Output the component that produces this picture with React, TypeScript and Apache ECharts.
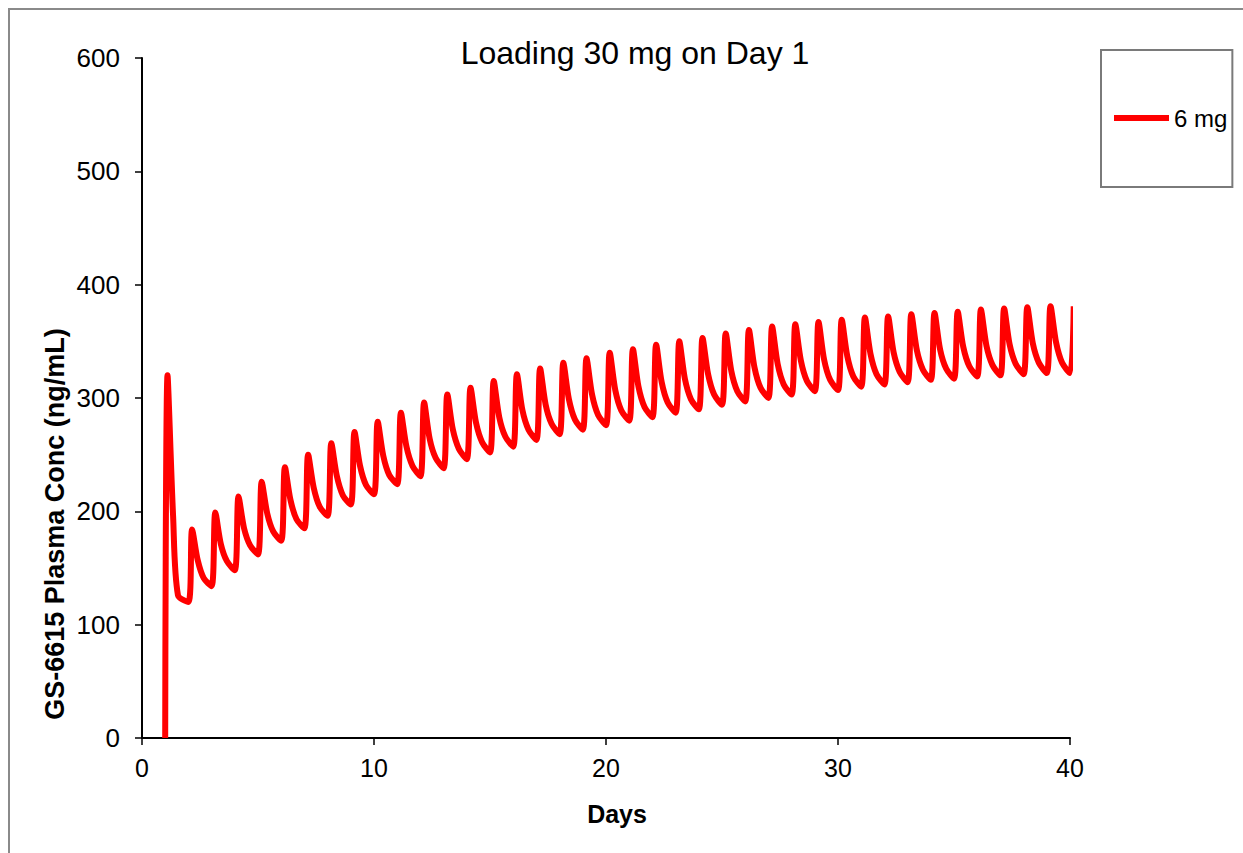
import React, { useEffect, useRef } from "react";
import * as echarts from "echarts";

// Dose days (daily dosing, loading dose on day 1)
const doseDays = [
  1, 2, 3, 4, 5, 6, 7, 8, 9, 10, 11, 12, 13, 14, 15, 16, 17, 18, 19, 20,
  21, 22, 23, 24, 25, 26, 27, 28, 29, 30, 31, 32, 33, 34, 35, 36, 37, 38, 39, 40,
];
// Concentration just before each dose (trough), ng/mL
const troughConc = [
  0, 120, 134, 148, 162, 174, 185, 196, 206, 215, 224, 231, 238, 246, 252, 257, 263, 268, 272, 276,
  280, 283, 287, 290, 294, 297, 300, 303, 306, 307, 310, 312, 314, 316, 317, 319, 320, 321, 322, 322,
];
// Peak concentration after each dose
const peakConc = [
  320, 184, 199, 213, 226, 239, 250, 260, 270, 279, 287, 296, 303, 309, 315, 321, 326, 331, 335, 340,
  343, 347, 350, 353, 357, 360, 363, 365, 367, 369, 371, 372, 374, 375, 376, 378, 379, 380, 381, 381,
];
// Concentration early in the decline after each peak
const earlyDecayConc = [
  196, 157, 171, 185, 198, 210, 221, 231, 240, 249, 257, 264, 272, 278, 283, 289, 294, 299, 303, 307,
  310, 314, 317, 321, 324, 327, 330, 333, 334, 337, 339, 340, 342, 343, 345, 346, 347, 348, 349,
];
// Concentration later in the decline
const lateDecayConc = [
  126, 141, 156, 170, 182, 193, 204, 214, 223, 232, 240, 247, 255, 261, 266, 272, 277, 281, 285, 289,
  292, 296, 299, 303, 306, 309, 312, 315, 316, 319, 321, 323, 325, 326, 328, 329, 330, 331, 331,
];
// Sampling times after each dose (days)
const sampleOffsets = { peak: 0.16, early: 0.4, late: 0.66 };

const xTicks = { min: 0, max: 40, interval: 10 };
const yTicks = { min: 0, max: 600, interval: 100 };

const seriesName = "6 mg";
const titleText = "Loading 30 mg on Day 1";
const xName = "Days";
const yName = "GS-6615 Plasma Conc (ng/mL)";

function buildSeries(): number[][] {
  const pts: number[][] = [];
  doseDays.forEach((d, i) => {
    pts.push([d, troughConc[i]]);
    const pk = i === 0 ? 0.1 : sampleOffsets.peak;
    if (peakConc[i] !== undefined) pts.push([d + pk, peakConc[i]]);
    if (earlyDecayConc[i] !== undefined) pts.push([d + (i === 0 ? 0.34 : sampleOffsets.early), earlyDecayConc[i]]);
    if (lateDecayConc[i] !== undefined) pts.push([d + (i === 0 ? 0.55 : sampleOffsets.late), lateDecayConc[i]]);
  });
  return pts;
}

const FONT = "'Liberation Sans', Arial, sans-serif";

export default function App() {
  const ref = useRef<HTMLDivElement>(null);
  useEffect(() => {
    document.body.style.margin = "0";
    if (!ref.current) return;
    const chart = echarts.init(ref.current, undefined, { renderer: "svg" });
    chart.setOption({
      animation: false,
      backgroundColor: "#ffffff",
      title: {
        text: titleText,
        left: 630,
        top: 32,
        textAlign: "center",
        textStyle: { fontFamily: FONT, fontSize: 32, fontWeight: "normal", color: "#000" },
      },
      legend: {
        data: [{ name: seriesName, icon: "rect" }],
        orient: "vertical",
        left: 1101,
        top: 50,
        padding: [56, 5, 57, 13],
        itemWidth: 55,
        itemHeight: 6,
        borderColor: "#7a7a7a",
        borderWidth: 2,
        backgroundColor: "#ffffff",
        textStyle: { fontFamily: FONT, fontSize: 24, color: "#000" },
      },
      grid: { left: 142, right: 173, top: 58, bottom: 115, containLabel: false },
      xAxis: {
        type: "value",
        ...xTicks,
        name: xName,
        nameLocation: "middle",
        nameGap: 63,
        nameTextStyle: { fontFamily: FONT, fontSize: 25, fontWeight: "bold", color: "#000", padding: [0, 0, 0, 22] },
        axisLine: { show: true, lineStyle: { color: "#000", width: 2 } },
        axisTick: { show: true, length: 7, lineStyle: { color: "#000", width: 1.5 } },
        axisLabel: { fontFamily: FONT, fontSize: 25, color: "#000", margin: 17 },
        splitLine: { show: false },
      },
      yAxis: {
        type: "value",
        ...yTicks,
        axisLine: { show: true, lineStyle: { color: "#000", width: 2 } },
        axisTick: { show: true, length: 7, lineStyle: { color: "#000", width: 1.5 } },
        axisLabel: { fontFamily: FONT, fontSize: 26, color: "#000", margin: 22 },
        splitLine: { show: false },
      },
      graphic: [
        {
          type: "rect",
          z: -10,
          shape: { x: 9, y: 9, width: 1500, height: 1000 },
          style: { fill: "none", stroke: "#8a8a8a", lineWidth: 2 },
        },
        {
          type: "text",
          x: 55,
          y: 524,
          rotation: Math.PI / 2,
          style: {
            text: yName,
            fontFamily: FONT,
            fontSize: 27,
            fontWeight: "bold",
            fill: "#000",
            align: "center",
            verticalAlign: "middle",
          },
        },
      ],
      series: [
        {
          name: seriesName,
          type: "line",
          data: buildSeries(),
          symbol: "none",
          smooth: 0.3,
          clip: false,
          lineStyle: { color: "#ff0000", width: 6 },
          itemStyle: { color: "#ff0000" },
        },
      ],
    });
    return () => chart.dispose();
  }, []);
  return <div ref={ref} style={{ width: 1243, height: 853 }} />;
}
